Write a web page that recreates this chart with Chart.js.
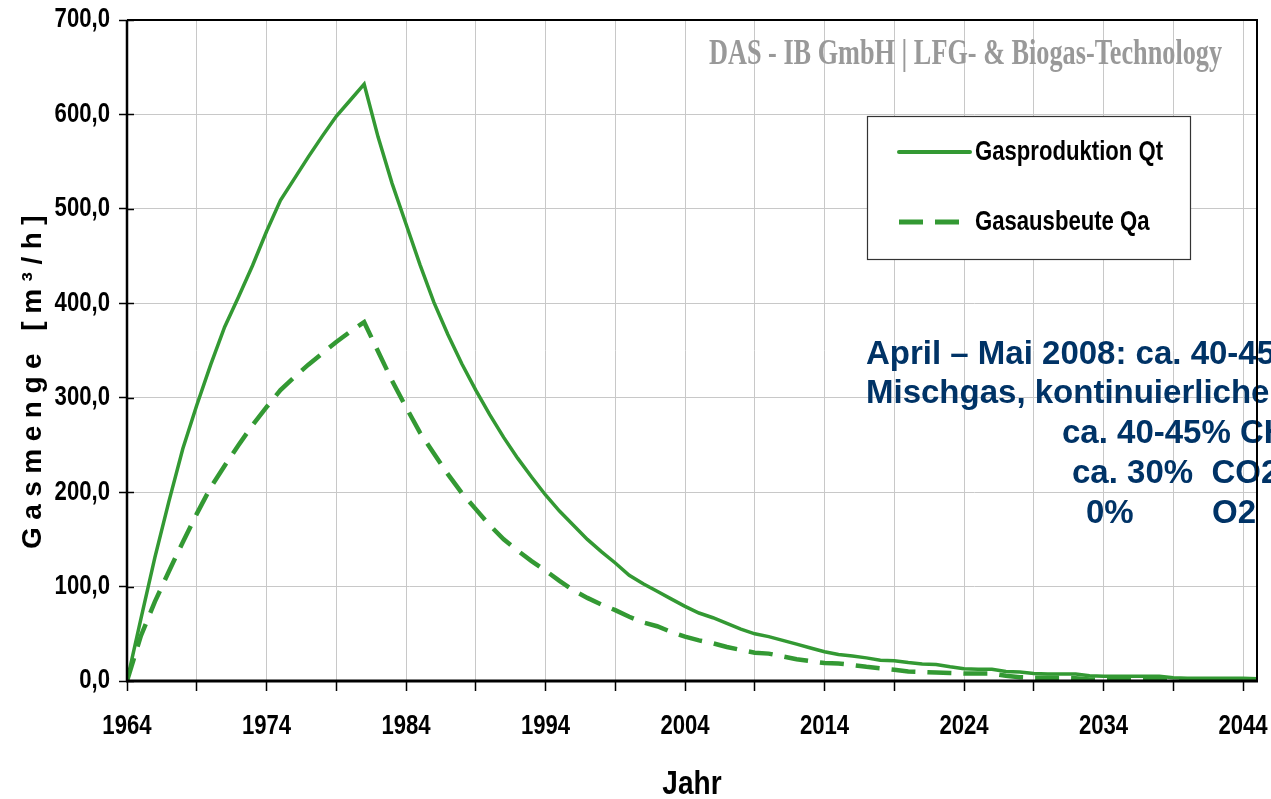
<!DOCTYPE html>
<html><head><meta charset="utf-8">
<script src="https://cdn.jsdelivr.net/npm/chart.js@4.4.1/dist/chart.umd.min.js"></script>
<style>html,body{margin:0;padding:0;background:#fff;overflow:hidden}canvas{display:block}</style>
</head><body>
<canvas id="c" width="1271" height="799" style="width:1271px;height:799px"></canvas>
<script>
// ---- data ----
const years = [1964,1965,1966,1967,1968,1969,1970,1971,1972,1973,1974,1975,1976,1977,1978,1979,1980,1981,1982,1983,
  1984,1985,1986,1987,1988,1989,1990,1991,1992,1993,1994,1995,1996,1997,1998,1999,2000,2001,2002,2003,
  2004,2005,2006,2007,2008,2009,2010,2011,2012,2013,2014,2015,2016,2017,2018,2019,2020,2021,2022,2023,
  2024,2025,2026,2027,2028,2029,2030,2031,2032,2033,2034,2035,2036,2037,2038,2039,2040,2041,2042,2043,
  2044,2045];
const gasproduktionQt = [0,66,131,190,246,292,335,375,407,440,476,509,532,555,577,598,615,632,576,527,
  484,441,401,367,336,308,282,258,236,216,197,180,165,150,137,125,112,103,95,87,
  79,72,67,61,55,50,47,43,39,35,31,28,26.5,24.5,22,21.5,19.5,18,17.5,15,
  13,12.5,12.5,10,9.5,8,7.5,7.5,7.5,5.5,5,5,5,5,5,3.5,3,3,3,3,
  3,2.5];
const gasausbeuteQa = [0,48,84,116,147,177,205,228,250,271,290,308,322,335,347,359,370,380,349,318,
  290,263,241,219,199,182,165,150,138,127,117,106,96,88,81,75,68,62,58,52,
  47,43,40,36,33,30,29,26,23,21,19,18.5,17,15,13.5,12,10,9.5,9,8.5,
  8,8,8,5.5,4,3.5,3.5,3.5,3,1.5,1.5,1.5,1.5,1.5,1.5,1,1,1,1,1,
  1,1];
const xTickYears = [1964,1969,1974,1979,1984,1989,1994,1999,2004,2009,2014,2019,2024,2029,2034,2039,2044];
const xLabelYears = [1964,1974,1984,1994,2004,2014,2024,2034,2044];
const seriesLabels = ['Gasproduktion Qt','Gasausbeute Qa'];
const yTitle = 'Gasmenge [m³/h]';
const xTitle = 'Jahr';
const watermark = 'DAS - IB GmbH | LFG- & Biogas-Technology';
const noteLines = ['April – Mai 2008: ca. 40-45 m³/h', 'Mischgas, kontinuierlicher Betrieb', 'ca. 40-45% CH4', 'ca. 30%  CO2'];
const noteLast = ['0%', 'O2'];

// ---- style ----
const GREEN = '#339933';
const SANS = "'Liberation Sans', Arial, sans-serif";
const NARROW_X = 0.82;

function narrowLabels(scale, sx) {
  scale.drawLabels = function (chartArea) {
    const ctx = this.ctx;
    const items = this.getLabelItems(chartArea);
    for (const item of items) {
      const o = item.options;
      if (item.label === '' || item.label == null) continue;
      ctx.save();
      ctx.translate(o.translation[0], o.translation[1]);
      if (o.rotation) ctx.rotate(o.rotation);
      ctx.scale(sx, 1);
      ctx.font = item.font.string;
      ctx.fillStyle = o.color;
      ctx.textAlign = o.textAlign;
      ctx.textBaseline = o.textBaseline;
      ctx.fillText(item.label, 0, item.textOffset);
      ctx.restore();
    }
  };
}

const decorations = {
  id: 'decorations',
  beforeDraw(chart) {
    const y = chart.scales.y, x = chart.scales.x;
    if (y && !y._patched) {
      const orig = y.drawTitle;
      y.drawTitle = function () {
        const c = this.ctx; c.save();
        c.letterSpacing = '7.5px';
        c.translate(2, 28);
        orig.call(this);
        c.restore();
      };
      narrowLabels(y, NARROW_X);
      y._patched = true;
    }
    if (x && !x._patched) {
      const orig = x.drawTitle;
      x.drawTitle = function () {
        const c = this.ctx; c.save();
        const cx = (this.left + this.right) / 2;
        c.translate(cx, 6); c.scale(0.85, 1); c.translate(-cx, 0);
        orig.call(this);
        c.restore();
      };
      narrowLabels(x, NARROW_X);
      x._patched = true;
    }
  },
  beforeDatasetsDraw(chart) {
    const c = chart.ctx;
    c.save();
    c.font = 'bold 35px "Liberation Serif", "Times New Roman", serif';
    c.fillStyle = '#999999';
    c.textBaseline = 'alphabetic';
    c.translate(709, 64);
    c.scale(0.75, 1);
    c.fillText(watermark, 0, 0);
    c.restore();
  },
  afterDatasetsDraw(chart) {
    const c = chart.ctx;
    // legend box
    c.save();
    const L = 867, T = 116, R = 1190, B = 259;
    c.fillStyle = '#fff'; c.fillRect(L, T, R - L, B - T);
    c.strokeStyle = '#333'; c.lineWidth = 1.2; c.strokeRect(L + 0.5, T + 0.5, R - L, B - T);
    const rows = [152, 222];
    chart.data.datasets.forEach((ds, i) => {
      const y = rows[i];
      c.beginPath();
      c.setLineDash(ds.borderDash || []);
      c.lineWidth = ds.borderWidth + 0.5;
      c.strokeStyle = ds.borderColor;
      c.lineCap = i ? 'butt' : 'round';
      c.moveTo(899, y); c.lineTo(i ? 962 : 970, y); c.stroke();
      c.setLineDash([]);
      c.save();
      c.translate(975, y);
      c.scale(0.79, 1);
      c.fillStyle = '#000';
      c.font = 'bold 28px ' + SANS;
      c.textBaseline = 'middle';
      c.textAlign = 'left';
      c.fillText(ds.label, 0, 0);
      c.restore();
    });
    c.restore();
    // annotation
    c.save();
    c.fillStyle = '#003366';
    c.font = 'bold 33px ' + SANS;
    c.textBaseline = 'alphabetic';
    c.textAlign = 'left';
    c.fillText(noteLines[0], 866, 364);
    c.fillText(noteLines[1], 866, 403);
    c.fillText(noteLines[2], 1062, 443);
    c.fillText(noteLines[3], 1072, 483);
    c.fillText(noteLast[0], 1086, 523);
    c.fillText(noteLast[1], 1212, 523);
    c.restore();
  },
  afterDraw(chart) {
    const a = chart.chartArea, c = chart.ctx, ys = chart.scales.y;
    c.save();
    // inner half of the y tick marks (ticks cross the axis)
    c.strokeStyle = '#000';
    c.lineWidth = 1.5;
    ys.ticks.forEach(t => {
      const py = Math.round(ys.getPixelForValue(t.value)) + 0.5;
      c.beginPath(); c.moveTo(a.left, py); c.lineTo(a.left + 7, py); c.stroke();
    });
    c.lineWidth = 2;
    c.beginPath(); c.moveTo(a.left, a.top); c.lineTo(a.right, a.top); c.lineTo(a.right, a.bottom); c.stroke();
    c.lineWidth = 2.5;
    c.beginPath(); c.moveTo(a.left, a.top); c.lineTo(a.left, a.bottom + 1); c.stroke();
    c.lineWidth = 3;
    c.beginPath(); c.moveTo(a.left - 1, a.bottom); c.lineTo(a.right + 1, a.bottom); c.stroke();
    c.restore();
  }
};

new Chart(document.getElementById('c'), {
  type: 'line',
  data: {
    datasets: [
      { label: seriesLabels[0], data: years.map((y, i) => ({ x: y, y: gasproduktionQt[i] })),
        borderColor: GREEN, borderWidth: 3.5, pointRadius: 0, tension: 0, fill: false },
      { label: seriesLabels[1], data: years.map((y, i) => ({ x: y, y: gasausbeuteQa[i] })),
        borderColor: GREEN, borderWidth: 4.5, borderDash: [24, 12], pointRadius: 0, tension: 0, fill: false }
    ]
  },
  options: {
    responsive: false,
    animation: false,
    layout: { padding: { top: 20, right: 14, left: 0, bottom: 0 } },
    plugins: { legend: { display: false }, tooltip: { enabled: false } },
    scales: {
      x: {
        type: 'linear', min: 1964, max: 2045,
        afterBuildTicks: (s) => { s.ticks = xTickYears.map(v => ({ value: v })); },
        afterFit: (s) => { s.height = 118; s.paddingLeft = 0; s.paddingRight = 0; },
        grid: { color: '#c8c8c8', lineWidth: 1, tickLength: 10, tickColor: '#000', tickWidth: 1.5, drawTicks: true },
        border: { display: false },
        ticks: {
          autoSkip: false, maxRotation: 0, padding: 19, color: '#000',
          font: { family: SANS, weight: 'bold', size: 27 },
          callback: (v) => xLabelYears.includes(v) ? String(v) : ''
        },
        title: { display: true, text: xTitle, color: '#000', font: { family: SANS, weight: 'bold', size: 33 }, padding: { top: 0, bottom: 0 } }
      },
      y: {
        min: 0, max: 700,
        afterFit: (s) => { s.width = 127; s.paddingTop = 0; s.paddingBottom = 0; },
        grid: { color: '#c8c8c8', lineWidth: 1, tickLength: 8, tickColor: '#000', tickWidth: 1.5 },
        border: { display: false },
        ticks: {
          stepSize: 100, padding: 9, color: '#000',
          font: { family: SANS, weight: 'bold', size: 27 },
          callback: (v) => v.toFixed(1).replace('.', ',')
        },
        title: { display: true, text: yTitle, color: '#000', font: { family: SANS, weight: 'bold', size: 28 }, padding: { top: 14, bottom: 0 } }
      }
    }
  },
  plugins: [decorations]
});
</script>
</body></html>
